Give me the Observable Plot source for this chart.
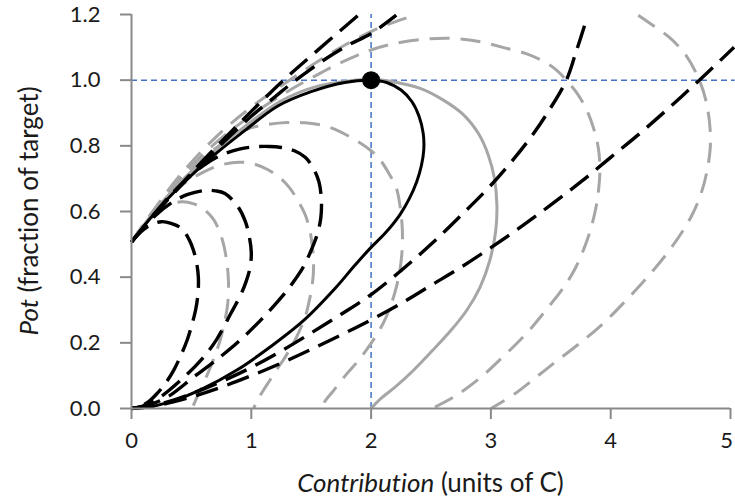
<!DOCTYPE html>
<html><head><meta charset="utf-8">
<script src="https://cdn.jsdelivr.net/npm/d3@7"></script>
<script src="https://cdn.jsdelivr.net/npm/@observablehq/plot@0.6"></script>
<style>body{margin:0;background:#fff;} svg{display:block;font-variant-ligatures:none}</style>
</head><body><div id="chart"></div>
<script>
// ---- data ----
const xTicks = [0, 1, 2, 3, 4, 5];
const yTicks = [0, 0.2, 0.4, 0.6, 0.8, 1.0, 1.2];
const targetContribution = 2;
const targetPot = 1.0;
const xTitleItalic = "Contribution", xTitleRest = " (units of C)";
const yTitleItalic = "Pot", yTitleRest = " (fraction of target)";

// black dashed loops
const black1 = [[0,0.507],[0.05,0.528],[0.1,0.545],[0.17,0.561],[0.25,0.569],[0.33,0.564],[0.42,0.548],[0.48,0.515],[0.517,0.482],[0.545,0.44],[0.558,0.40],[0.555,0.35],[0.535,0.30],[0.50,0.25],[0.464,0.208],[0.41,0.16],[0.353,0.117],[0.28,0.075],[0.214,0.046],[0.14,0.02],[0.07,0.006],[0,0]];
const black2 = [[0,0.507],[0.1,0.55],[0.2,0.588],[0.34,0.628],[0.47,0.652],[0.61,0.664],[0.7,0.663],[0.78,0.655],[0.89,0.614],[0.95,0.57],[0.985,0.52],[1.0,0.475],[0.99,0.43],[0.955,0.385],[0.91,0.345],[0.83,0.29],[0.71,0.21],[0.58,0.147],[0.41,0.086],[0.24,0.035],[0.1,0.008],[0,0]];
const black3 = [[0,0.507],[0.15,0.575],[0.3,0.64],[0.45,0.695],[0.6,0.74],[0.75,0.772],[0.9,0.79],[1.03,0.797],[1.15,0.798],[1.25,0.795],[1.36,0.785],[1.45,0.765],[1.52,0.73],[1.565,0.69],[1.585,0.634],[1.58,0.58],[1.55,0.53],[1.50,0.482],[1.44,0.435],[1.37,0.395],[1.30,0.36],[1.13,0.289],[0.936,0.218],[0.74,0.157],[0.52,0.096],[0.30,0.035],[0.12,0.008],[0,0]];
// black solid loop through the target
const blackSolid = [[0,0.507],[0.2,0.598],[0.45,0.693],[0.67,0.766],[0.95,0.848],[1.225,0.922],[1.5,0.965],[1.78,0.993],[2.0,1.0],[2.13,0.993],[2.25,0.97],[2.34,0.935],[2.40,0.89],[2.435,0.838],[2.44,0.79],[2.42,0.74],[2.38,0.69],[2.32,0.64],[2.24,0.59],[2.12,0.535],[1.99,0.487],[1.85,0.43],[1.71,0.37],[1.44,0.269],[1.16,0.188],[0.88,0.117],[0.60,0.061],[0.325,0.02],[0.1,0.002],[0,0]];
// black dashed open curves (upper and lower visible parts)
const black4Upper = [[0,0.507],[0.25,0.615],[0.5,0.712],[0.75,0.805],[1.0,0.89],[1.2,0.95],[1.353,0.995],[1.6,1.06],[1.8,1.105],[2.0,1.142],[2.21,1.198]];
const black4Lower = [[0,0],[0.25,0.015],[0.5,0.045],[0.75,0.082],[1.0,0.125],[1.25,0.175],[1.5,0.23],[1.75,0.287],[2.0,0.347],[2.25,0.42],[2.5,0.50],[2.75,0.588],[3.0,0.68],[3.3,0.81],[3.48,0.905],[3.63,1.0],[3.71,1.085],[3.785,1.17]];
const black5Upper = [[0,0.507],[0.25,0.615],[0.5,0.717],[0.75,0.813],[1.0,0.905],[1.27,1.0],[1.55,1.09],[1.89,1.197]];
const black5Lower = [[0,0],[0.25,0.012],[0.5,0.035],[0.75,0.065],[1.0,0.10],[1.25,0.138],[1.5,0.18],[1.75,0.224],[2.0,0.27],[2.25,0.32],[2.5,0.375],[2.75,0.43],[3.0,0.49],[3.25,0.553],[3.5,0.62],[3.75,0.69],[4.0,0.765],[4.25,0.84],[4.5,0.92],[4.74,1.0],[5.03,1.10]];
// grey dashed loops
const grey1 = [[0,0.507],[0.1,0.555],[0.2,0.592],[0.3,0.617],[0.42,0.63],[0.52,0.623],[0.614,0.604],[0.68,0.578],[0.725,0.548],[0.765,0.505],[0.79,0.46],[0.806,0.41],[0.81,0.36],[0.80,0.31],[0.775,0.26],[0.74,0.208],[0.70,0.165],[0.66,0.127],[0.615,0.088],[0.575,0.056],[0.535,0.025],[0.506,0]];
const grey2 = [[0,0.507],[0.15,0.585],[0.3,0.643],[0.45,0.688],[0.6,0.72],[0.75,0.742],[0.9,0.75],[1.02,0.745],[1.14,0.727],[1.24,0.702],[1.32,0.672],[1.39,0.632],[1.45,0.59],[1.49,0.54],[1.513,0.482],[1.52,0.43],[1.51,0.38],[1.485,0.33],[1.45,0.279],[1.40,0.235],[1.35,0.198],[1.28,0.155],[1.21,0.117],[1.15,0.083],[1.10,0.055],[1.05,0.025],[1.02,0]];
const grey3 = [[0,0.507],[0.2,0.605],[0.4,0.69],[0.6,0.762],[0.8,0.818],[0.96,0.85],[1.1,0.863],[1.3,0.871],[1.45,0.87],[1.64,0.858],[1.85,0.822],[2.0,0.785],[2.08,0.755],[2.15,0.715],[2.21,0.672],[2.24,0.62],[2.26,0.55],[2.26,0.49],[2.24,0.42],[2.2,0.355],[2.15,0.30],[2.10,0.259],[2.03,0.215],[1.96,0.178],[1.88,0.14],[1.80,0.107],[1.69,0.056],[1.62,0.025],[1.575,0]];
// grey solid loop through the target
const greySolid = [[0,0.507],[0.2,0.605],[0.45,0.705],[0.7,0.787],[0.95,0.86],[1.24,0.935],[1.52,0.978],[1.8,0.997],[2.0,1.003],[2.16,0.997],[2.41,0.975],[2.6,0.94],[2.77,0.895],[2.9,0.835],[2.98,0.77],[3.03,0.70],[3.05,0.62],[3.04,0.54],[2.99,0.45],[2.91,0.37],[2.80,0.30],[2.66,0.235],[2.5,0.172],[2.35,0.115],[2.2,0.065],[2.08,0.03],[2.0,0]];
// larger grey dashed loops
const grey5 = [[0,0.507],[0.15,0.585],[0.4,0.70],[0.7,0.808],[1.0,0.893],[1.3,0.965],[1.5,1.006],[1.71,1.047],[1.88,1.075],[2.0,1.092],[2.19,1.111],[2.46,1.125],[2.69,1.127],[2.9,1.118],[3.1,1.10],[3.3,1.08],[3.46,1.053],[3.55,1.03],[3.63,1.0],[3.72,0.96],[3.80,0.909],[3.86,0.85],[3.895,0.797],[3.91,0.736],[3.9,0.67],[3.87,0.6],[3.81,0.52],[3.71,0.431],[3.6,0.365],[3.46,0.30],[3.3,0.23],[3.10,0.157],[2.9,0.09],[2.69,0.035],[2.51,0]];
const grey6Upper = [[0,0.507],[0.15,0.587],[0.4,0.708],[0.7,0.825],[1.0,0.918],[1.3,0.995],[1.7,1.09],[2.06,1.158],[2.38,1.2]];
const grey6Lower = [[4.23,1.198],[4.36,1.165],[4.49,1.13],[4.63,1.075],[4.74,1.0],[4.80,0.93],[4.83,0.85],[4.83,0.79],[4.80,0.716],[4.75,0.65],[4.68,0.59],[4.6,0.54],[4.49,0.482],[4.33,0.41],[4.13,0.33],[3.94,0.26],[3.74,0.198],[3.55,0.145],[3.38,0.096],[3.2,0.045],[3.0,0]];

// ---- build tables ----
function rows(group) {
  return Object.entries(group).flatMap(([id, pts]) => pts.map(([x, y]) => ({id, x, y})));
}
const greyDashedRows = rows({grey1, grey2, grey3, grey5, grey6Upper, grey6Lower});
const greySolidRows = rows({greySolid});
const blackDashedRows = rows({black1, black2, black3, black4Upper, black4Lower, black5Upper, black5Lower});
const blackSolidRows = rows({blackSolid});

const AXIS = "#898989", BLUE = "#4472c4", GREY = "#a6a6a6", TEXT = "#1a1a1a";
const lineOpts = {x: "x", y: "y", z: "id", curve: "catmull-rom", strokeLinecap: "butt", strokeLinejoin: "round"};
const lastTick = xTicks[xTicks.length - 1];

const chart = Plot.plot({
  width: 735, height: 501,
  marginLeft: 131, marginRight: 5, marginTop: 14, marginBottom: 93,
  style: {fontFamily: "Lato, sans-serif", fontSize: "22px", color: TEXT, background: "#fff", overflow: "visible"},
  x: {domain: [0, 5]},
  y: {domain: [0, 1.2]},
  marks: [
    Plot.ruleY([targetPot], {x1: 0, x2: 5.04, stroke: BLUE, strokeWidth: 1.5, strokeDasharray: "6,4"}),
    Plot.ruleX([targetContribution], {y1: 0, y2: 1.2, stroke: BLUE, strokeWidth: 1.5, strokeDasharray: "6,4"}),
    Plot.line(greySolidRows, {...lineOpts, stroke: GREY, strokeWidth: 3}),
    Plot.line(greyDashedRows, {...lineOpts, stroke: GREY, strokeWidth: 3, strokeDasharray: "20,11"}),
    Plot.line(blackDashedRows, {...lineOpts, stroke: "#000", strokeWidth: 3.4, strokeDasharray: "23,10"}),
    Plot.line(blackSolidRows, {...lineOpts, stroke: "#000", strokeWidth: 3}),
    Plot.ruleX([0], {stroke: AXIS, strokeWidth: 2}),
    Plot.ruleY([0], {stroke: AXIS, strokeWidth: 2}),
    Plot.axisX({ticks: xTicks, tickSize: 11, stroke: AXIS, strokeWidth: 2, text: null, label: null}),
    Plot.axisX({ticks: xTicks.filter(d => d !== lastTick), tickSize: 0, tickPadding: 24, label: null, tickFormat: d => String(d)}),
    Plot.axisX({ticks: [lastTick], tickSize: 0, tickPadding: 24, label: null, dx: -4, tickFormat: d => String(d)}),
    Plot.axisY({ticks: yTicks, tickSize: 11, tickPadding: 20, stroke: AXIS, strokeWidth: 2, label: null, tickFormat: d3.format(".1f")}),
    Plot.dot([{x: targetContribution, y: targetPot}], {x: "x", y: "y", r: 9, fill: "#000", stroke: "none"})
  ]
});

const sx = chart.scale("x"), sy = chart.scale("y");
const svg = d3.select(chart);
const xt = svg.append("text")
  .attr("x", (sx.apply(0) + sx.apply(5)) / 2).attr("y", 492)
  .attr("text-anchor", "middle").attr("fill", TEXT).attr("font-size", 26);
xt.append("tspan").attr("font-style", "italic").text(xTitleItalic);
xt.append("tspan").text(xTitleRest);
const yt = svg.append("text")
  .attr("transform", `translate(38,${(sy.apply(0) + sy.apply(1.2)) / 2}) rotate(-90)`)
  .attr("text-anchor", "middle").attr("fill", TEXT).attr("font-size", 26);
yt.append("tspan").attr("font-style", "italic").text(yTitleItalic);
yt.append("tspan").text(yTitleRest);

document.getElementById("chart").appendChild(chart);
</script>
</body></html>
